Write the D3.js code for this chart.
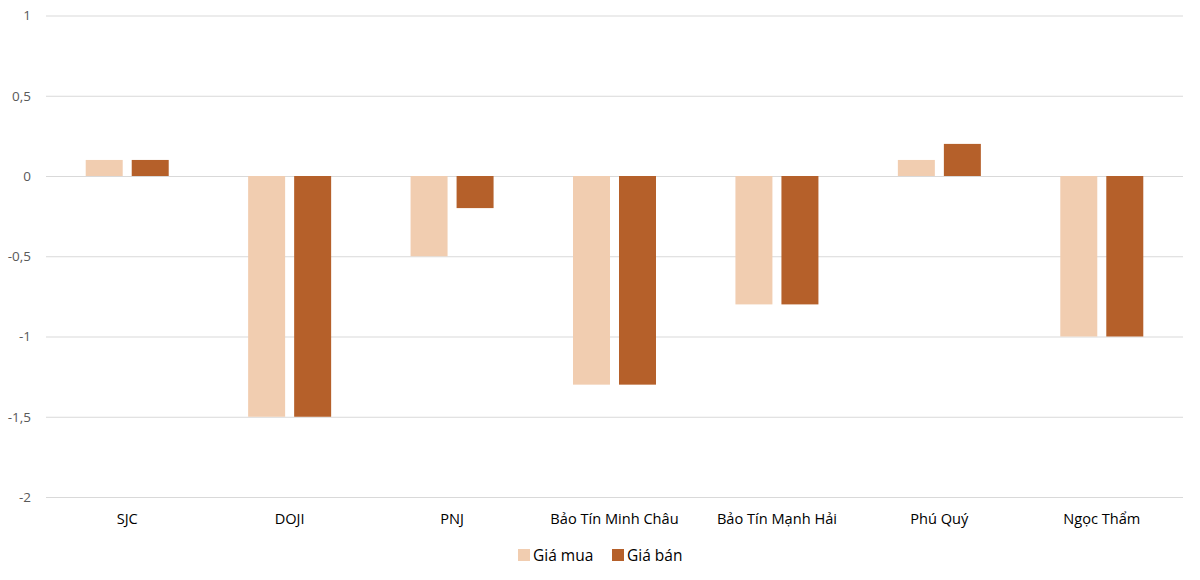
<!DOCTYPE html>
<html lang="vi">
<head>
<meta charset="utf-8">
<script src="https://d3js.org/d3.v7.min.js"></script>
<style>
  body { margin: 0; background: #fff; }
  text { font-family: "Open Sans", "Liberation Sans", sans-serif; }
</style>
</head>
<body>
<div id="chart"></div>
<script>
const categories = ["SJC", "DOJI", "PNJ", "Bảo Tín Minh Châu", "Bảo Tín Mạnh Hải", "Phú Quý", "Ngọc Thẩm"]
const seriesNames = ["Giá mua", "Giá bán"]
const giaMua = [0.1, -1.5, -0.5, -1.3, -0.8, 0.1, -1]
const giaBan = [0.1, -1.5, -0.2, -1.3, -0.8, 0.2, -1]
const yTicks = [-2, -1.5, -1, -0.5, 0, 0.5, 1]
const colors = ["#F1CDB0", "#B5602A"]

const width = 1200
const height = 580
const margin = { top: 15.5, left: 46, right: 17, bottom: 83 }

const data = categories.map((c, i) => ({ cat: c, values: [giaMua[i], giaBan[i]] }))

const svg = d3.select("#chart")
  .append("svg")
  .attr("width", width)
  .attr("height", height)

let x0 = d3.scaleBand()
  .domain(categories)
  .range([margin.left, width - margin.right])
  .paddingInner(0.489)
  .paddingOuter(0.2445)

let x1 = d3.scaleBand()
  .domain(seriesNames)
  .range([0, x0.bandwidth()])
  .paddingInner(0.196)

let y = d3.scaleLinear()
  .domain([-2, 1])
  .range([height - margin.bottom, margin.top])

const fmt = v => String(v).replace(".", ",")

// grid + y labels
svg.append("g")
  .attr("transform", `translate(${margin.left},0)`)
  .call(d3.axisLeft(y).tickValues(yTicks).tickFormat(fmt).tickSize(-(width - margin.left - margin.right)).tickPadding(15))
  .call(g => g.select(".domain").remove())
  .call(g => g.selectAll(".tick line").attr("stroke", "#d9d9d9").attr("stroke-width", 1))
  .call(g => g.selectAll(".tick text").attr("fill", "#595959").attr("font-size", 13.5))

// bars
svg.append("g")
  .selectAll("g")
  .data(data)
  .join("g")
  .attr("transform", d => `translate(${x0(d.cat)},0)`)
  .selectAll("rect")
  .data(d => d.values.map((v, i) => ({ key: seriesNames[i], v, i })))
  .join("rect")
  .attr("x", d => x1(d.key))
  .attr("width", x1.bandwidth())
  .attr("y", d => y(Math.max(0, d.v)))
  .attr("height", d => Math.abs(y(d.v) - y(0)))
  .attr("fill", d => colors[d.i])

// category labels
svg.append("g")
  .selectAll("text")
  .data(categories)
  .join("text")
  .attr("x", d => x0(d) + x0.bandwidth() / 2)
  .attr("y", 524)
  .attr("text-anchor", "middle")
  .attr("font-size", 14.6)
  .attr("fill", "#000")
  .text(d => d)

// legend
const legend = svg.append("g")
  .selectAll("g")
  .data(seriesNames)
  .join("g")
  .attr("transform", (d, i) => `translate(${518 + i * 94},549)`)
legend.append("rect")
  .attr("width", 12)
  .attr("height", 12)
  .attr("fill", (d, i) => colors[i])
legend.append("text")
  .attr("x", 15)
  .attr("y", 11.5)
  .attr("font-size", 15.5)
  .attr("fill", "#000")
  .text(d => d)
</script>
</body>
</html>
